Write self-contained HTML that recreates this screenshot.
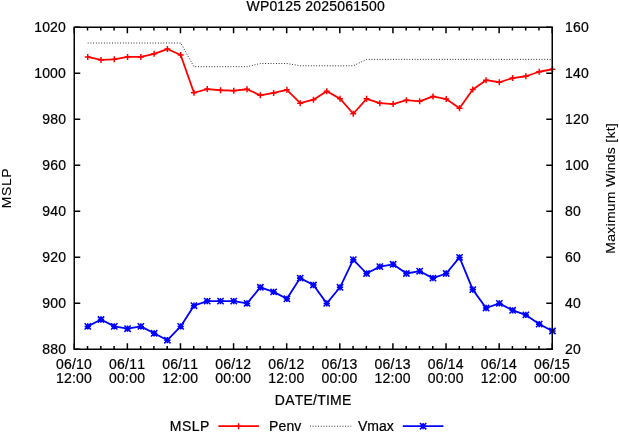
<!DOCTYPE html>
<html><head><meta charset="utf-8"><title>WP0125 2025061500</title>
<style>html,body{margin:0;padding:0;background:#fff;overflow:hidden;}svg{display:block;will-change:transform;}text{font-kerning:none;font-family:"Liberation Sans",sans-serif;font-size:14px;fill:#000;stroke:#000;stroke-width:0.22px;}</style></head><body>
<svg width="619" height="432" viewBox="0 0 619 432">
<rect width="619" height="432" fill="#fff"/>
<text transform="translate(65.9 354.3) scale(1 1.06)" text-anchor="end" x="0.22" letter-spacing="0.22">880</text>
<text transform="translate(65.9 308.3) scale(1 1.06)" text-anchor="end" x="0.22" letter-spacing="0.22">900</text>
<text transform="translate(65.9 262.3) scale(1 1.06)" text-anchor="end" x="0.22" letter-spacing="0.22">920</text>
<text transform="translate(65.9 216.3) scale(1 1.06)" text-anchor="end" x="0.22" letter-spacing="0.22">940</text>
<text transform="translate(65.9 170.3) scale(1 1.06)" text-anchor="end" x="0.22" letter-spacing="0.22">960</text>
<text transform="translate(65.9 124.3) scale(1 1.06)" text-anchor="end" x="0.22" letter-spacing="0.22">980</text>
<text transform="translate(65.9 78.3) scale(1 1.06)" text-anchor="end" x="0.22" letter-spacing="0.22">1000</text>
<text transform="translate(65.9 32.3) scale(1 1.06)" text-anchor="end" x="0.22" letter-spacing="0.22">1020</text>
<text transform="translate(565.1 354.3) scale(1 1.06)" letter-spacing="0.22">20</text>
<text transform="translate(565.1 308.3) scale(1 1.06)" letter-spacing="0.22">40</text>
<text transform="translate(565.1 262.3) scale(1 1.06)" letter-spacing="0.22">60</text>
<text transform="translate(565.1 216.3) scale(1 1.06)" letter-spacing="0.22">80</text>
<text transform="translate(565.1 170.3) scale(1 1.06)" letter-spacing="0.22">100</text>
<text transform="translate(565.1 124.3) scale(1 1.06)" letter-spacing="0.22">120</text>
<text transform="translate(565.1 78.3) scale(1 1.06)" letter-spacing="0.22">140</text>
<text transform="translate(565.1 32.3) scale(1 1.06)" letter-spacing="0.22">160</text>
<text transform="translate(73.85 368.95) scale(1 1.06)" text-anchor="middle" x="0.11" letter-spacing="0.22">06/10</text>
<text transform="translate(73.85 383.2) scale(1 1.06)" text-anchor="middle" x="0.11" letter-spacing="0.22">12:00</text>
<text transform="translate(126.96 368.95) scale(1 1.06)" text-anchor="middle" x="0.11" letter-spacing="0.22">06/11</text>
<text transform="translate(126.96 383.2) scale(1 1.06)" text-anchor="middle" x="0.11" letter-spacing="0.22">00:00</text>
<text transform="translate(180.07 368.95) scale(1 1.06)" text-anchor="middle" x="0.11" letter-spacing="0.22">06/11</text>
<text transform="translate(180.07 383.2) scale(1 1.06)" text-anchor="middle" x="0.11" letter-spacing="0.22">12:00</text>
<text transform="translate(233.18 368.95) scale(1 1.06)" text-anchor="middle" x="0.11" letter-spacing="0.22">06/12</text>
<text transform="translate(233.18 383.2) scale(1 1.06)" text-anchor="middle" x="0.11" letter-spacing="0.22">00:00</text>
<text transform="translate(286.29 368.95) scale(1 1.06)" text-anchor="middle" x="0.11" letter-spacing="0.22">06/12</text>
<text transform="translate(286.29 383.2) scale(1 1.06)" text-anchor="middle" x="0.11" letter-spacing="0.22">12:00</text>
<text transform="translate(339.41 368.95) scale(1 1.06)" text-anchor="middle" x="0.11" letter-spacing="0.22">06/13</text>
<text transform="translate(339.41 383.2) scale(1 1.06)" text-anchor="middle" x="0.11" letter-spacing="0.22">00:00</text>
<text transform="translate(392.52 368.95) scale(1 1.06)" text-anchor="middle" x="0.11" letter-spacing="0.22">06/13</text>
<text transform="translate(392.52 383.2) scale(1 1.06)" text-anchor="middle" x="0.11" letter-spacing="0.22">12:00</text>
<text transform="translate(445.63 368.95) scale(1 1.06)" text-anchor="middle" x="0.11" letter-spacing="0.22">06/14</text>
<text transform="translate(445.63 383.2) scale(1 1.06)" text-anchor="middle" x="0.11" letter-spacing="0.22">00:00</text>
<text transform="translate(498.74 368.95) scale(1 1.06)" text-anchor="middle" x="0.11" letter-spacing="0.22">06/14</text>
<text transform="translate(498.74 383.2) scale(1 1.06)" text-anchor="middle" x="0.11" letter-spacing="0.22">12:00</text>
<text transform="translate(551.85 368.95) scale(1 1.06)" text-anchor="middle" x="0.11" letter-spacing="0.22">06/15</text>
<text transform="translate(551.85 383.2) scale(1 1.06)" text-anchor="middle" x="0.11" letter-spacing="0.22">00:00</text>
<text transform="translate(246.5 10.7) scale(1 1.06)" letter-spacing="0.19">WP0125 2025061500</text>
<text transform="translate(274.8 404.8) scale(1 1.06)" letter-spacing="0.24">DATE/TIME</text>
<text transform="translate(11.2 188.3) rotate(-90) scale(1 0.93)" text-anchor="middle" x="0.28" style="stroke-width:0.1px" letter-spacing="0.55">MSLP</text>
<text transform="translate(614.5 188.5) rotate(-90) scale(1 0.93)" text-anchor="middle" x="0.14" style="stroke-width:0.1px" letter-spacing="0.27">Maximum Winds [kt]</text>
<polyline points="87.73,43 101.01,43 114.28,43 127.56,43 140.84,43 154.12,43 167.39,43 180.67,43 193.95,66.7 207.23,66.7 220.51,66.7 233.78,66.7 247.06,66.7 260.34,63.5 273.62,63.5 286.89,63.5 300.17,65.8 313.45,65.8 326.73,65.8 340.01,65.8 353.28,65.8 366.56,59.4 379.84,59.4 393.12,59.4 406.39,59.4 419.67,59.4 432.95,59.4 446.23,59.4 459.51,59.4 472.78,59.4 486.06,59.4 499.34,59.4 512.62,59.4 525.89,59.4 539.17,59.4 552.45,59.4" fill="none" stroke="#000" stroke-width="0.9" stroke-dasharray="0.9 1.8"/>
<polyline points="87.73,56.95 101.01,59.95 114.28,59.35 127.56,56.95 140.84,56.95 154.12,53.85 167.39,49.05 180.67,55.05 193.95,92.75 207.23,89.05 220.51,90.25 233.78,90.65 247.06,89.25 260.34,95.35 273.62,92.95 286.89,89.85 300.17,103.15 313.45,99.65 326.73,91.25 340.01,98.65 353.28,113.75 366.56,98.85 379.84,103.15 393.12,104.05 406.39,100.15 419.67,101.35 432.95,96.45 446.23,99.05 459.51,108.15 472.78,89.45 486.06,80.15 499.34,82.25 512.62,78.05 525.89,76.25 539.17,71.75 552.45,69.25" fill="none" stroke="#f00" stroke-width="1.8" stroke-linejoin="round"/>
<path d="M84.73 56.95h6M87.73 53.95v6M98.01 59.95h6M101.01 56.95v6M111.28 59.35h6M114.28 56.35v6M124.56 56.95h6M127.56 53.95v6M137.84 56.95h6M140.84 53.95v6M151.12 53.85h6M154.12 50.85v6M164.39 49.05h6M167.39 46.05v6M177.67 55.05h6M180.67 52.05v6M190.95 92.75h6M193.95 89.75v6M204.23 89.05h6M207.23 86.05v6M217.51 90.25h6M220.51 87.25v6M230.78 90.65h6M233.78 87.65v6M244.06 89.25h6M247.06 86.25v6M257.34 95.35h6M260.34 92.35v6M270.62 92.95h6M273.62 89.95v6M283.89 89.85h6M286.89 86.85v6M297.17 103.15h6M300.17 100.15v6M310.45 99.65h6M313.45 96.65v6M323.73 91.25h6M326.73 88.25v6M337.01 98.65h6M340.01 95.65v6M350.28 113.75h6M353.28 110.75v6M363.56 98.85h6M366.56 95.85v6M376.84 103.15h6M379.84 100.15v6M390.12 104.05h6M393.12 101.05v6M403.39 100.15h6M406.39 97.15v6M416.67 101.35h6M419.67 98.35v6M429.95 96.45h6M432.95 93.45v6M443.23 99.05h6M446.23 96.05v6M456.51 108.15h6M459.51 105.15v6M469.78 89.45h6M472.78 86.45v6M483.06 80.15h6M486.06 77.15v6M496.34 82.25h6M499.34 79.25v6M509.62 78.05h6M512.62 75.05v6M522.89 76.25h6M525.89 73.25v6M536.17 71.75h6M539.17 68.75v6M549.45 69.25h6M552.45 66.25v6" stroke="#f00" stroke-width="1.5" fill="none"/>
<polyline points="87.73,326.4 101.01,319.5 114.28,326.4 127.56,328.7 140.84,326.4 154.12,333.3 167.39,340.2 180.67,326.4 193.95,305.7 207.23,301.1 220.51,301.1 233.78,301.1 247.06,303.4 260.34,287.3 273.62,291.9 286.89,298.8 300.17,278.1 313.45,285 326.73,303.4 340.01,287.3 353.28,259.7 366.56,273.5 379.84,266.6 393.12,264.3 406.39,273.5 419.67,271.2 432.95,278.1 446.23,273.5 459.51,257.4 472.78,289.6 486.06,308 499.34,303.4 512.62,310.3 525.89,314.9 539.17,324.1 552.45,331" fill="none" stroke="#00f" stroke-width="1.8" stroke-linejoin="round"/>
<path d="M84.58 326.4h6.3M87.73 323.25v6.3M84.58 323.25l6.3 6.3M84.58 329.55l6.3 -6.3M97.86 319.5h6.3M101.01 316.35v6.3M97.86 316.35l6.3 6.3M97.86 322.65l6.3 -6.3M111.13 326.4h6.3M114.28 323.25v6.3M111.13 323.25l6.3 6.3M111.13 329.55l6.3 -6.3M124.41 328.7h6.3M127.56 325.55v6.3M124.41 325.55l6.3 6.3M124.41 331.85l6.3 -6.3M137.69 326.4h6.3M140.84 323.25v6.3M137.69 323.25l6.3 6.3M137.69 329.55l6.3 -6.3M150.97 333.3h6.3M154.12 330.15v6.3M150.97 330.15l6.3 6.3M150.97 336.45l6.3 -6.3M164.24 340.2h6.3M167.39 337.05v6.3M164.24 337.05l6.3 6.3M164.24 343.35l6.3 -6.3M177.52 326.4h6.3M180.67 323.25v6.3M177.52 323.25l6.3 6.3M177.52 329.55l6.3 -6.3M190.8 305.7h6.3M193.95 302.55v6.3M190.8 302.55l6.3 6.3M190.8 308.85l6.3 -6.3M204.08 301.1h6.3M207.23 297.95v6.3M204.08 297.95l6.3 6.3M204.08 304.25l6.3 -6.3M217.36 301.1h6.3M220.51 297.95v6.3M217.36 297.95l6.3 6.3M217.36 304.25l6.3 -6.3M230.63 301.1h6.3M233.78 297.95v6.3M230.63 297.95l6.3 6.3M230.63 304.25l6.3 -6.3M243.91 303.4h6.3M247.06 300.25v6.3M243.91 300.25l6.3 6.3M243.91 306.55l6.3 -6.3M257.19 287.3h6.3M260.34 284.15v6.3M257.19 284.15l6.3 6.3M257.19 290.45l6.3 -6.3M270.47 291.9h6.3M273.62 288.75v6.3M270.47 288.75l6.3 6.3M270.47 295.05l6.3 -6.3M283.74 298.8h6.3M286.89 295.65v6.3M283.74 295.65l6.3 6.3M283.74 301.95l6.3 -6.3M297.02 278.1h6.3M300.17 274.95v6.3M297.02 274.95l6.3 6.3M297.02 281.25l6.3 -6.3M310.3 285h6.3M313.45 281.85v6.3M310.3 281.85l6.3 6.3M310.3 288.15l6.3 -6.3M323.58 303.4h6.3M326.73 300.25v6.3M323.58 300.25l6.3 6.3M323.58 306.55l6.3 -6.3M336.86 287.3h6.3M340.01 284.15v6.3M336.86 284.15l6.3 6.3M336.86 290.45l6.3 -6.3M350.13 259.7h6.3M353.28 256.55v6.3M350.13 256.55l6.3 6.3M350.13 262.85l6.3 -6.3M363.41 273.5h6.3M366.56 270.35v6.3M363.41 270.35l6.3 6.3M363.41 276.65l6.3 -6.3M376.69 266.6h6.3M379.84 263.45v6.3M376.69 263.45l6.3 6.3M376.69 269.75l6.3 -6.3M389.97 264.3h6.3M393.12 261.15v6.3M389.97 261.15l6.3 6.3M389.97 267.45l6.3 -6.3M403.24 273.5h6.3M406.39 270.35v6.3M403.24 270.35l6.3 6.3M403.24 276.65l6.3 -6.3M416.52 271.2h6.3M419.67 268.05v6.3M416.52 268.05l6.3 6.3M416.52 274.35l6.3 -6.3M429.8 278.1h6.3M432.95 274.95v6.3M429.8 274.95l6.3 6.3M429.8 281.25l6.3 -6.3M443.08 273.5h6.3M446.23 270.35v6.3M443.08 270.35l6.3 6.3M443.08 276.65l6.3 -6.3M456.36 257.4h6.3M459.51 254.25v6.3M456.36 254.25l6.3 6.3M456.36 260.55l6.3 -6.3M469.63 289.6h6.3M472.78 286.45v6.3M469.63 286.45l6.3 6.3M469.63 292.75l6.3 -6.3M482.91 308h6.3M486.06 304.85v6.3M482.91 304.85l6.3 6.3M482.91 311.15l6.3 -6.3M496.19 303.4h6.3M499.34 300.25v6.3M496.19 300.25l6.3 6.3M496.19 306.55l6.3 -6.3M509.47 310.3h6.3M512.62 307.15v6.3M509.47 307.15l6.3 6.3M509.47 313.45l6.3 -6.3M522.74 314.9h6.3M525.89 311.75v6.3M522.74 311.75l6.3 6.3M522.74 318.05l6.3 -6.3M536.02 324.1h6.3M539.17 320.95v6.3M536.02 320.95l6.3 6.3M536.02 327.25l6.3 -6.3M549.3 331h6.3M552.45 327.85v6.3M549.3 327.85l6.3 6.3M549.3 334.15l6.3 -6.3" stroke="#00f" stroke-width="1.55" fill="none"/>
<path d="M74.25 349.25h6M552.25 349.25h-6M74.25 303.25h6M552.25 303.25h-6M74.25 257.25h6M552.25 257.25h-6M74.25 211.25h6M552.25 211.25h-6M74.25 165.25h6M552.25 165.25h-6M74.25 119.25h6M552.25 119.25h-6M74.25 73.25h6M552.25 73.25h-6M74.25 27.25h6M552.25 27.25h-6M74.25 349.25v-6M74.25 27.25v6M87.53 349.25v-3.2M87.53 27.25v3.2M100.81 349.25v-3.2M100.81 27.25v3.2M114.08 349.25v-3.2M114.08 27.25v3.2M127.36 349.25v-6M127.36 27.25v6M140.64 349.25v-3.2M140.64 27.25v3.2M153.92 349.25v-3.2M153.92 27.25v3.2M167.19 349.25v-3.2M167.19 27.25v3.2M180.47 349.25v-6M180.47 27.25v6M193.75 349.25v-3.2M193.75 27.25v3.2M207.03 349.25v-3.2M207.03 27.25v3.2M220.31 349.25v-3.2M220.31 27.25v3.2M233.58 349.25v-6M233.58 27.25v6M246.86 349.25v-3.2M246.86 27.25v3.2M260.14 349.25v-3.2M260.14 27.25v3.2M273.42 349.25v-3.2M273.42 27.25v3.2M286.69 349.25v-6M286.69 27.25v6M299.97 349.25v-3.2M299.97 27.25v3.2M313.25 349.25v-3.2M313.25 27.25v3.2M326.53 349.25v-3.2M326.53 27.25v3.2M339.81 349.25v-6M339.81 27.25v6M353.08 349.25v-3.2M353.08 27.25v3.2M366.36 349.25v-3.2M366.36 27.25v3.2M379.64 349.25v-3.2M379.64 27.25v3.2M392.92 349.25v-6M392.92 27.25v6M406.19 349.25v-3.2M406.19 27.25v3.2M419.47 349.25v-3.2M419.47 27.25v3.2M432.75 349.25v-3.2M432.75 27.25v3.2M446.03 349.25v-6M446.03 27.25v6M459.31 349.25v-3.2M459.31 27.25v3.2M472.58 349.25v-3.2M472.58 27.25v3.2M485.86 349.25v-3.2M485.86 27.25v3.2M499.14 349.25v-6M499.14 27.25v6M512.42 349.25v-3.2M512.42 27.25v3.2M525.69 349.25v-3.2M525.69 27.25v3.2M538.97 349.25v-3.2M538.97 27.25v3.2M552.25 349.25v-6M552.25 27.25v6" stroke="#000" stroke-width="1.5" fill="none"/>
<rect x="74.25" y="27.25" width="478" height="322" fill="none" stroke="#000" stroke-width="1.5"/>
<text transform="translate(169.8 430.6) scale(1 1.06)" letter-spacing="0.5">MSLP</text>
<path d="M218.4 426.2H258.9" stroke="#f00" stroke-width="1.8"/>
<path d="M235.6 426.2h6M238.6 423.2v6" stroke="#f00" stroke-width="1.5" fill="none"/>
<text transform="translate(269.1 430.6) scale(1 1.06)" letter-spacing="0.1">Penv</text>
<path d="M310 426.2H351.2" stroke="#000" stroke-width="0.9" stroke-dasharray="0.9 1.8"/>
<text transform="translate(357.9 430.6) scale(1 1.06)" letter-spacing="0.05">Vmax</text>
<path d="M402.8 426.2H443.4" stroke="#00f" stroke-width="1.8"/>
<path d="M419.95 426.2h6.3M423.1 423.05v6.3M419.95 423.05l6.3 6.3M419.95 429.35l6.3 -6.3" stroke="#00f" stroke-width="1.55" fill="none"/>
</svg></body></html>
